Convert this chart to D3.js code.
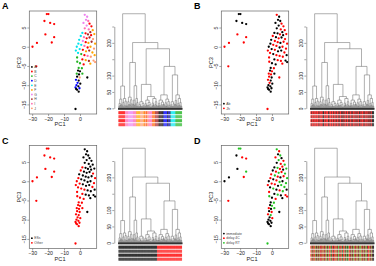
<!DOCTYPE html>
<html><head><meta charset="utf-8">
<script src="https://cdn.jsdelivr.net/npm/d3@7"></script>
<style>body{margin:0;background:#fff}svg{display:block;font-family:"Liberation Sans",Arial,sans-serif}</style>
</head><body><svg id="c" width="376" height="266"></svg>
<script>
// ---------- scatter data (PC1, PC3) ----------
const pc1 = [-20.8,-19.8,-22.3,-18.7,-16.2,-21.7,-16.2,-27,-17.7,-29.8,-27.4,-2.8,
 3.0,4.5,3.8,5.2,2.2,6.0,4.2,7.2,3.0,5.5,8.0,6.5,1.5,3.5,5.0,7.0,9.0,0.5,2.5,4.2,6.0,8.2,
 -0.5,1.8,3.6,5.3,7.3,9.5,-1.0,0.8,2.8,4.8,6.6,8.8,-2.0,-0.2,1.8,3.8,5.8,7.8,-2.6,-1.2,0.8,
 2.8,4.8,6.8,9.2,-1.8,1.5,3.6,5.6,8.5,-1.7,0.0,2.3,6.5,9.5,-0.8,1.2,-1.2,0.0,-2.0,-0.6,1.5,
 -1.8,-0.2,4.6,-2.5,-0.8,-1.5,0.2,-2.2,-1.0,-2.8,-0.3,-1.8,-0.8,-2.4];
const pc3 = [8.5,8.5,6.7,6.2,5.9,3.2,2.5,1.0,1.1,0,-5.1,-16.2,
 8.3,7.8,7.0,6.7,6.2,6.0,5.5,5.3,4.8,4.5,4.3,3.8,3.6,3.5,3.2,3.0,3.3,2.8,2.5,2.2,2.4,2.0,
 1.8,1.5,1.2,1.0,1.3,0.8,0.8,0.5,0.2,-0.2,0.0,-0.5,0.0,-0.6,-0.8,-1.2,-1.0,-1.5,-1.0,-1.6,-1.9,
 -2.2,-2.4,-2.6,-2.2,-2.8,-3.3,-3.5,-3.7,-3.6,-3.9,-4.3,-4.6,-4.4,-4.0,-5.5,-5.6,-6.2,-6.4,-7.0,-7.2,-7.0,
 -7.8,-8.0,-8.0,-8.6,-8.8,-9.4,-9.6,-10.0,-10.3,-10.6,-10.8,-11.2,-11.7,-11.0];
const site  = ("BBBBBBBBBBBA" + "GGGIGBGBIIFHEBHBFEIBHJEGBFHFEEIBFJEEBFHFEECBIJFCBFHJCCBFJCCAACACAJADADADADDA").split("");
const batch = ("aaaaajjjjjjj" + "jaaaajajajjaaajajjajajajjajjajjajjaajaajjjajjjajajjajaajaajajjjajajjaja").split("");
const stype = ("OOOOOOOOOOOO" + "EEEEEEEEEEEEOEEEEOEEEOEEEEEOOEEEEOOOEEEOOOOOEEEOOEEEOOOEEOOOOOOOOOEOOOOOOOOOOO").split("");
const delay = ("rricciricicr" + "rcircircicrcirciricrcrcrcicrcicririccirrciricriciricricicirirciricicrici").split("");

const siteKeys   = ["A","B","C","D","E","F","G","H","I","J"];
const siteColors = ["#000000","#ff0000","#22b422","#0000ff","#00e5ee","#ffa500","#ee82ee","#a52a2a","#ff6eb4","#ff9a70"];
const batchKeys = ["a","j"], batchLabels = ["Ab","Jh"], batchColors = ["#000000","#ff0000"];
const typeKeys = ["E","O"], typeLabels = ["ESs","Other"], typeColors = ["#000000","#ff0000"];
const delayKeys = ["i","c","r"], delayLabels = ["immediate","delay 4C","delay RT"], delayColors = ["#000000","#ff0000","#22c322"];

const xTicks = [-30,-20,-10,0];
const yTicks = [-15,-10,-5,0,5];
const dTicks = [0,50,100,150,200,250];
const dTickLabels = ["0","50","100","","200",""];

// ---------- dendrogram (node = [height, ...children], leaf = 0) ----------
const cL  = [68,[28,[15,[6,0,0],[9,0,0,0]],[12,0,0]],[30,[18,[8,0,0],[5,0,0]],[22,[10,0,0],[7,0,0,0]]]];
const cP  = [34,[20,[8,0,0],[12,0,0,0]],[26,[10,0,0],[14,[5,0,0],0]]];
const cQ  = [69,[25,[12,0,0,0],[9,0,0]],[30,[14,0,0],[18,[7,0,0],[6,0,0]]]];
const cR1 = [20,[12,[5,0,0],[7,0,0,0]],[15,[6,0,0,0],[9,[4,0,0],0]]];
const cR2 = [36,[25,[14,[6,0,0],[8,0,0,0]],[18,[9,0,0,0],[11,[5,0,0],[4,0,0,0]]]],
                [30,[16,[7,0,0],[10,0,0,0]],[20,[12,[5,0,0],0],[8,0,0,0]]]];
const cS1 = [41,[25,[15,[7,0,0,0],[9,0,0]],[19,[10,[5,0,0],[6,0,0]],[12,0,0,0,0]]],
                [28,[17,[8,0,0],[6,0,0,0]],[21,[11,0,0],[9,[4,0,0],0]]]];
const cS2 = [102,[20,[11,[5,0,0],[7,0,0]],[14,[6,0,0,0],0]],
                 [41,[24,[12,0,0,0],[9,0,0]],[30,[15,[6,0,0],[8,0,0]],[18,[10,0,0],[7,0,0,0]]]]];
const treeData = [289, cL, [201, [140, cP, cQ], [182, [73, cR1, cR2], [128, cS1, cS2]]]];

// leaf label colours in dendrogram order
const leafSite  = ("BBBBBBBBBBBB"+"IIIIII"+"GGGGGGGGG"+"IIIIII"+"FFFFFFF"+"JJJJJJ"+"FBFIFBFIF"+"IIIIIII"+"FBFBFB"+"HHHHHH"+"AAAAHAAAA"+"DDDDDDD"+"AADADA"+"EEEEEEEEE"+"CCCCCCCCCCCC").split("");
const leafBatch = ("jjajjjajjjaj"+"jjajjajjjajaajjjajjjjaajjjajjjajjaj"+"jajjajajjjajaajjajjajjjajajjaja"+"jjajajjajajjaajajjjajajjajajjajaajja").split("");
const leafType  = ("E".repeat(71)+"O".repeat(46)).split("");
const leafDelay = ("ccrcicrccrcicricrccicrcrciccrrcicrccrci"+"rcciccrcrcicrrcicrcriccrcicrricrccicrci"+"crrcicrcrcicrcrrcicrcicrcrciccrcicrci").split("");

const svg = d3.select("#c");
const panels = [
  {letter:"A", dx:0,   dy:0,     cat:site,  keys:siteKeys,  labels:siteKeys,   colors:siteColors,  leaf:leafSite},
  {letter:"B", dx:192, dy:0,     cat:batch, keys:batchKeys, labels:batchLabels, colors:batchColors, leaf:leafBatch},
  {letter:"C", dx:0,   dy:134.5, cat:stype, keys:typeKeys,  labels:typeLabels,  colors:typeColors,  leaf:leafType},
  {letter:"D", dx:192, dy:134.5, cat:delay, keys:delayKeys, labels:delayLabels, colors:delayColors, leaf:leafDelay}
];

const box = {l:29.3, r:96.7, t:11, b:114};
const x = d3.scaleLinear().domain([-31.8,10.5]).range([box.l, box.r]);
const y = d3.scaleLinear().domain([-17.5,9.3]).range([box.b, box.t]);
const dy = d3.scaleLinear().domain([0,250]).range([108.3,26.5]);
const textCol = "#222";

const root = d3.hierarchy(treeData, d => Array.isArray(d) ? d.slice(1) : null);
d3.cluster().size([63.5, 1]).separation(() => 1)(root);
root.each(n => { n.h = Array.isArray(n.data) ? n.data[0] : 0; });
const leaves = root.leaves();
const leafX0 = 118.5;

panels.forEach(p => {
  const g = svg.append("g").attr("transform", `translate(${p.dx},${p.dy})`);
  const color = d3.scaleOrdinal().domain(p.keys).range(p.colors);
  g.append("text").attr("x",2).attr("y",9).attr("font-size",9).attr("font-weight","bold").attr("fill","#000").text(p.letter);

  // scatter box
  g.append("rect").attr("x",box.l).attr("y",box.t).attr("width",box.r-box.l).attr("height",box.b-box.t)
    .attr("fill","none").attr("stroke","#666").attr("stroke-width",0.7);
  const xa = g.append("g").attr("transform",`translate(0,${box.b})`)
    .call(d3.axisBottom(x).tickValues(xTicks).tickSize(2).tickPadding(1).tickSizeOuter(0));
  xa.select(".domain").remove();
  xa.selectAll("line").attr("stroke","#666").attr("stroke-width",0.6);
  xa.selectAll("text").attr("font-size",5.2).attr("fill",textCol).attr("font-family",null);
  const ya = g.append("g").attr("transform",`translate(${box.l},0)`)
    .call(d3.axisLeft(y).tickValues(yTicks).tickSize(2).tickSizeOuter(0));
  ya.select(".domain").remove();
  ya.selectAll("line").attr("stroke","#666").attr("stroke-width",0.6);
  ya.selectAll("text").attr("font-size",5.2).attr("fill",textCol).attr("font-family",null)
    .attr("x",0).attr("dy",0).attr("text-anchor","middle")
    .attr("transform","translate(-3.5,0) rotate(-90)");
  g.append("text").attr("x",(x(-30)+x(0))/2+4).attr("y",box.b+12).attr("text-anchor","middle")
    .attr("font-size",5.6).attr("fill",textCol).text("PC1");
  g.append("text").attr("transform",`translate(${box.l-8.5},${(box.t+box.b)/2}) rotate(-90)`).attr("text-anchor","middle")
    .attr("font-size",5.6).attr("fill",textCol).text("PC3");

  // points
  g.append("g").selectAll("circle").data(pc1).join("circle")
    .attr("cx",(d)=>x(d)).attr("cy",(d,i)=>y(pc3[i])).attr("r",1.15)
    .attr("fill",(d,i)=>color(p.cat[i]));

  // legend (bottom-left)
  const n = p.keys.length;
  const lg = g.append("g");
  p.keys.forEach((k,i) => {
    const yy = 108.3 - (n-1-i)*4.6;
    lg.append("circle").attr("cx",box.l+2.6).attr("cy",yy).attr("r",0.9).attr("fill",p.colors[i]);
    lg.append("text").attr("x",box.l+5).attr("y",yy+1.2).attr("font-size",3.4).attr("fill","#444").text(p.labels[i]);
  });

  // dendrogram axis
  const da = g.append("g").attr("transform","translate(114.3,0)")
    .call(d3.axisLeft(dy).tickValues(dTicks).tickSize(2).tickSizeOuter(0).tickFormat((d,i)=>dTickLabels[i]));
  da.select(".domain").attr("stroke","#666").attr("stroke-width",0.6);
  da.selectAll("line").attr("stroke","#666").attr("stroke-width",0.6);
  da.selectAll("text").attr("font-size",4.8).attr("fill",textCol).attr("font-family",null)
    .attr("x",0).attr("dy",0).attr("text-anchor","middle")
    .attr("transform","translate(-3.6,0) rotate(-90)");

  // dendrogram links
  const dg = g.append("g").attr("stroke","#6e6e6e").attr("stroke-width",0.55).attr("fill","none");
  root.descendants().filter(n => n.children).forEach(n => {
    const xs = n.children.map(c => leafX0 + c.x);
    dg.append("line").attr("x1",d3.min(xs)).attr("x2",d3.max(xs)).attr("y1",dy(n.h)).attr("y2",dy(n.h));
    n.children.forEach(c => {
      dg.append("line").attr("x1",leafX0+c.x).attr("x2",leafX0+c.x).attr("y1",dy(n.h)).attr("y2",c.children ? dy(c.h) : dy(0)+1.5);
    });
  });
  // dark base of leaves
  g.append("rect").attr("x",leafX0-0.5).attr("y",dy(0)-0.4).attr("width",64.5).attr("height",1.8).attr("fill","#333");
  // leaf label band
  const bg = g.append("g");
  leaves.forEach((lf,i) => {
    [111.2,115.2,119.2,123.2].forEach((yy,r) => {
      bg.append("rect").attr("x",leafX0+lf.x-0.3).attr("y",yy).attr("width",0.62).attr("height",3)
        .attr("fill",color(p.leaf[i])).attr("opacity", r%2 ? 0.8 : 1);
    });
  });
});
</script></body></html>
